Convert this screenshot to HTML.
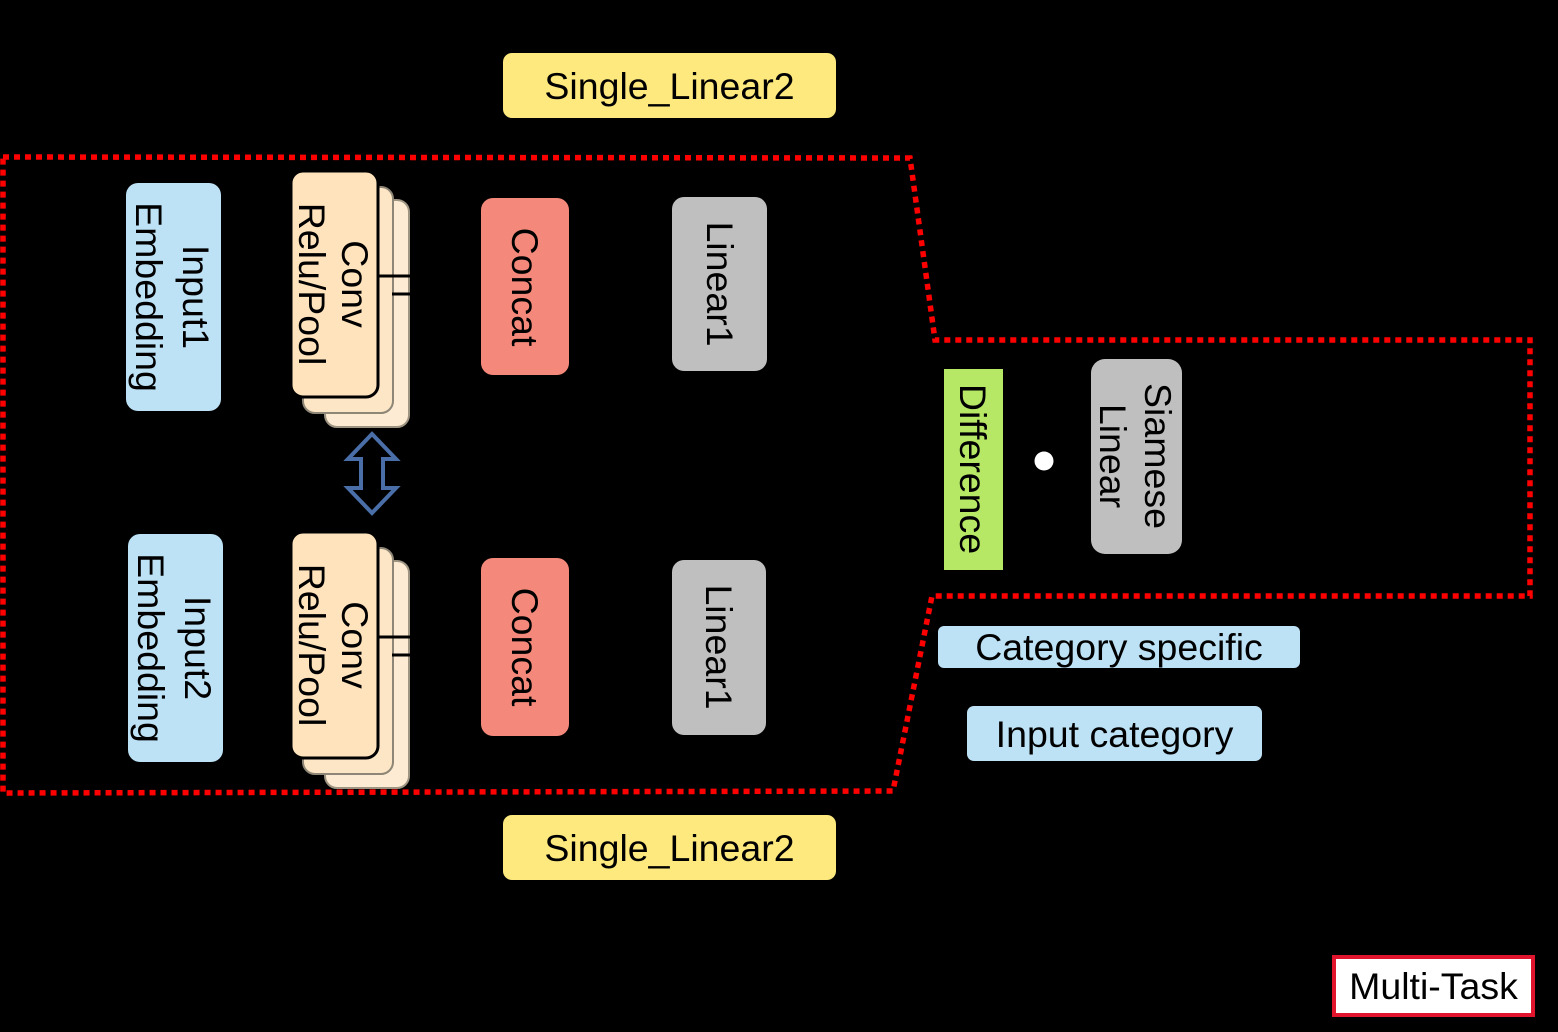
<!DOCTYPE html>
<html><head><meta charset="utf-8"><style>
html,body{margin:0;padding:0;background:#000;}
svg{display:block;}
text{font-family:"Liberation Sans",Arial,sans-serif;fill:#000;}
</style></head><body>
<svg width="1558" height="1032" viewBox="0 0 1558 1032" xmlns="http://www.w3.org/2000/svg">
<rect width="1558" height="1032" fill="#000"/>
<path d="M3,157 L910,158 L935,340 L1530,340 L1530,596 L932,596 L893,791 L3,793 Z" fill="none" stroke="#ff0000" stroke-width="5.5" stroke-dasharray="6 5"/>

<rect x="503" y="53" width="333" height="65" rx="9" fill="#fde97e"/>
<text x="669.5" y="99" font-size="37.5" text-anchor="middle">Single_Linear2</text>
<rect x="503" y="815" width="333" height="65" rx="9" fill="#fde97e"/>
<text x="669.5" y="861" font-size="37.5" text-anchor="middle">Single_Linear2</text>

<rect x="126" y="183" width="95" height="228" rx="12" fill="#bde1f5"/>
<text transform="translate(173,297) rotate(90)" font-size="37.5" text-anchor="middle" dominant-baseline="central"><tspan x="0" y="-23">Input1</tspan><tspan x="0" y="24">Embedding</tspan></text>

<rect x="325" y="200" width="84" height="227" rx="12" fill="#fdebd3" stroke="#9e9482" stroke-width="2"/>
<rect x="303" y="187" width="90" height="226" rx="12" fill="#fde6c6" stroke="#8e8676" stroke-width="2"/>
<rect x="291" y="171" width="87" height="226" rx="12" fill="#fee3bc" stroke="#000" stroke-width="3"/>
<line x1="378" y1="276" x2="410" y2="276" stroke="#000" stroke-width="3"/>
<line x1="392" y1="294" x2="410" y2="294" stroke="#000" stroke-width="3"/>
<text transform="translate(334,284) rotate(90)" font-size="37.5" text-anchor="middle" dominant-baseline="central"><tspan x="0" y="-21">Conv</tspan><tspan x="0" y="22">Relu/Pool</tspan></text>

<rect x="481" y="198" width="88" height="177" rx="12" fill="#f4897b"/>
<text transform="translate(525,287) rotate(90)" font-size="37.5" text-anchor="middle" dominant-baseline="central">Concat</text>

<rect x="672" y="197" width="95" height="174" rx="12" fill="#bfbfbf"/>
<text transform="translate(720,284) rotate(90)" font-size="37.5" text-anchor="middle" dominant-baseline="central">Linear1</text>

<path d="M372,434 L396,459 L383,459 L383,488 L396,488 L372,513 L348,488 L361,488 L361,459 L348,459 Z" fill="none" stroke="#4a6fa8" stroke-width="4"/>

<rect x="128" y="534" width="95" height="228" rx="12" fill="#bde1f5"/>
<text transform="translate(175,648) rotate(90)" font-size="37.5" text-anchor="middle" dominant-baseline="central"><tspan x="0" y="-23">Input2</tspan><tspan x="0" y="24">Embedding</tspan></text>

<rect x="325" y="561" width="84" height="227" rx="12" fill="#fdebd3" stroke="#9e9482" stroke-width="2"/>
<rect x="303" y="548" width="90" height="226" rx="12" fill="#fde6c6" stroke="#8e8676" stroke-width="2"/>
<rect x="291" y="532" width="87" height="226" rx="12" fill="#fee3bc" stroke="#000" stroke-width="3"/>
<line x1="378" y1="637" x2="410" y2="637" stroke="#000" stroke-width="3"/>
<line x1="392" y1="655" x2="410" y2="655" stroke="#000" stroke-width="3"/>
<text transform="translate(334,645) rotate(90)" font-size="37.5" text-anchor="middle" dominant-baseline="central"><tspan x="0" y="-21">Conv</tspan><tspan x="0" y="22">Relu/Pool</tspan></text>

<rect x="481" y="558" width="88" height="178" rx="12" fill="#f4897b"/>
<text transform="translate(525,647) rotate(90)" font-size="37.5" text-anchor="middle" dominant-baseline="central">Concat</text>

<rect x="672" y="560" width="94" height="175" rx="12" fill="#bfbfbf"/>
<text transform="translate(719,647) rotate(90)" font-size="37.5" text-anchor="middle" dominant-baseline="central">Linear1</text>

<rect x="944" y="369" width="59" height="201" fill="#b6e866"/>
<text transform="translate(973,469) rotate(90)" font-size="37.5" text-anchor="middle" dominant-baseline="central">Difference</text>
<circle cx="1044" cy="461" r="9.5" fill="#fff"/>
<rect x="1091" y="359" width="91" height="195" rx="14" fill="#bfbfbf"/>
<text transform="translate(1136,456) rotate(90)" font-size="37.5" text-anchor="middle" dominant-baseline="central"><tspan x="0" y="-22">Siamese</tspan><tspan x="0" y="23">Linear</tspan></text>

<rect x="938" y="626" width="362" height="42" rx="6" fill="#bde1f5"/>
<text x="1119" y="660" font-size="37.5" text-anchor="middle">Category specific</text>
<rect x="967" y="706" width="295" height="55" rx="7" fill="#bde1f5"/>
<text x="1114.5" y="747" font-size="37.5" text-anchor="middle">Input category</text>

<rect x="1334" y="957" width="199" height="58" fill="#fff" stroke="#e0142c" stroke-width="4"/>
<text x="1433.5" y="999" font-size="37.5" text-anchor="middle">Multi-Task</text>
</svg>
</body></html>
